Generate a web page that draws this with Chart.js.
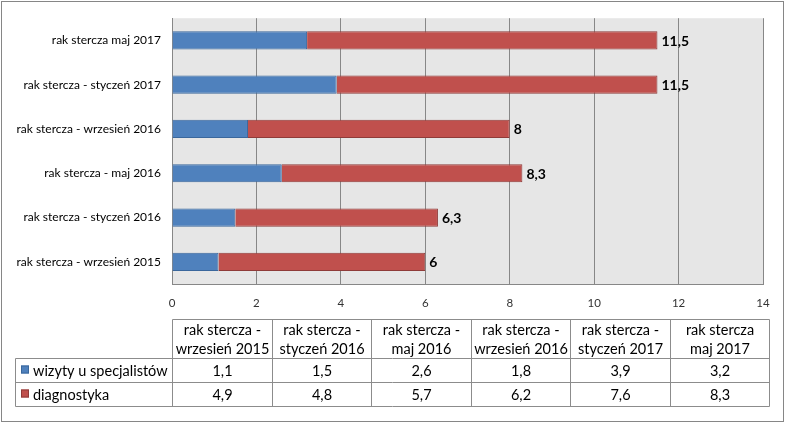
<!DOCTYPE html>
<html>
<head>
<meta charset="utf-8">
<script src="https://cdn.jsdelivr.net/npm/chart.js@4/dist/chart.umd.min.js"></script>
<style>
  html, body { margin: 0; padding: 0; background: #ffffff; }
  #wrap { width: 785px; height: 423px; position: relative; }
</style>
</head>
<body>
<div id="wrap"><canvas id="c" width="785" height="423"></canvas></div>
<script>
// ---- data (table order: oldest first) ----
const categories = [
  'rak stercza - wrzesień 2015',
  'rak stercza - styczeń 2016',
  'rak stercza - maj 2016',
  'rak stercza - wrzesień 2016',
  'rak stercza - styczeń 2017',
  'rak stercza maj 2017'
];
const seriesNames = ['wizyty u specjalistów', 'diagnostyka'];
const wizyty = [1.1, 1.5, 2.6, 1.8, 3.9, 3.2];
const diagnostyka = [4.9, 4.8, 5.7, 6.2, 7.6, 8.3];
const xTicks = [0, 2, 4, 6, 8, 10, 12, 14];

const FONT = 'Lato, "Open Sans", sans-serif';
const GRID = '#878787';
const fmt = v => String(Math.round(v * 10) / 10).replace('.', ',');

const bgPlugin = {
  id: 'bg',
  beforeDraw(chart) {
    const { ctx, chartArea: a } = chart;
    ctx.save();
    ctx.fillStyle = '#ffffff';
    ctx.fillRect(0, 0, chart.width, chart.height);
    ctx.fillStyle = '#e6e6e6';
    ctx.fillRect(a.left, a.top, a.right - a.left, a.bottom - a.top);
    ctx.restore();
  }
};

const totalsPlugin = {
  id: 'totals',
  afterDatasetsDraw(chart) {
    const { ctx } = chart;
    const last = chart.getDatasetMeta(chart.data.datasets.length - 1);
    ctx.save();
    ctx.font = 'bold 14px ' + FONT;
    ctx.fillStyle = '#000000';
    ctx.textAlign = 'left';
    ctx.textBaseline = 'middle';
    last.data.forEach((bar, i) => {
      const total = chart.data.datasets.reduce((s, d) => s + d.data[i], 0);
      ctx.fillText(fmt(total), bar.x + 4, bar.y + 1);
    });
    ctx.restore();
  }
};

const tablePlugin = {
  id: 'table',
  afterDraw(chart) {
    const { ctx, chartArea: a } = chart;
    const left = Math.round(a.left);
    const colW = 99.5;
    const n = categories.length;
    const edges = [];
    for (let i = 0; i <= n; i++) edges.push(Math.round(left + i * colW) + 0.5);
    const legL = 15.5;
    const yTop = 319.5, yH = 358.5, yR1 = 382.5, yR2 = 406.5;
    ctx.save();
    ctx.strokeStyle = '#8c8c8c';
    ctx.lineWidth = 1;
    ctx.beginPath();
    ctx.moveTo(edges[0], yTop); ctx.lineTo(edges[n], yTop);
    ctx.moveTo(legL, yH); ctx.lineTo(edges[n], yH);
    ctx.moveTo(legL, yR1); ctx.lineTo(edges[n], yR1);
    ctx.moveTo(legL, yR2); ctx.lineTo(edges[n], yR2);
    ctx.moveTo(legL, yH); ctx.lineTo(legL, yR2);
    edges.forEach(x => { ctx.moveTo(x, yTop); ctx.lineTo(x, yR2); });
    ctx.stroke();

    ctx.fillStyle = '#000000';
    ctx.textAlign = 'center';
    ctx.textBaseline = 'middle';
    ctx.font = '14.5px ' + FONT;
    categories.forEach((c, i) => {
      const m = c.match(/^(rak stercza(?: -)?) (.*)$/);
      const cx = (edges[i] + edges[i + 1]) / 2;
      ctx.fillText(m ? m[1] : c, cx, 330);
      ctx.fillText(m ? m[2] : '', cx, 349);
      ctx.fillText(fmt(wizyty[i]), cx, 371);
      ctx.fillText(fmt(diagnostyka[i]), cx, 395);
    });
    const ds = chart.data.datasets;
    [[ds[0], 370], [ds[1], 394]].forEach(([d, cy]) => {
      ctx.fillStyle = d.backgroundColor;
      ctx.fillRect(21, cy - 4.5, 8, 8);
      ctx.strokeStyle = d.borderColor;
      ctx.strokeRect(21.5, cy - 4, 7, 7);
      ctx.fillStyle = '#000000';
      ctx.textAlign = 'left';
      ctx.fillText(d.label, 33, cy + 1);
    });
    ctx.strokeStyle = '#868686';
    ctx.strokeRect(1.5, 1.5, chart.width - 3, chart.height - 3);
    ctx.restore();
  }
};

new Chart(document.getElementById('c'), {
  type: 'bar',
  data: {
    labels: categories,
    datasets: [
      { label: seriesNames[0], data: wizyty, backgroundColor: '#4f81bd', borderColor: '#3a679c', borderWidth: 1,
        categoryPercentage: 1, barPercentage: 0.41 },
      { label: seriesNames[1], data: diagnostyka, backgroundColor: '#c0504d', borderColor: '#8f3b39', borderWidth: 1,
        categoryPercentage: 1, barPercentage: 0.41 }
    ]
  },
  options: {
    indexAxis: 'y',
    responsive: false,
    animation: false,
    devicePixelRatio: 1,
    layout: { padding: { top: 15, right: 22, bottom: 109, left: 0 } },
    plugins: { legend: { display: false }, tooltip: { enabled: false } },
    scales: {
      x: {
        stacked: true,
        min: xTicks[0],
        max: xTicks[xTicks.length - 1],
        afterBuildTicks(scale) { scale.ticks = xTicks.map(v => ({ value: v })); },
        ticks: { font: { family: FONT, size: 11.5 }, color: '#333333', padding: 12, maxRotation: 0 },
        grid: { color: GRID, drawTicks: false, lineWidth: 1 },
        border: { display: true, color: GRID },
        afterFit(scale) { scale.height = 30; }
      },
      y: {
        stacked: true,
        reverse: true,
        ticks: { font: { family: FONT, size: 12 }, color: '#000000', padding: 11 },
        grid: { display: false, drawTicks: false },
        border: { display: true, color: GRID },
        afterFit(scale) { scale.width = 172; }
      }
    }
  },
  plugins: [bgPlugin, totalsPlugin, tablePlugin]
});
</script>
</body>
</html>
